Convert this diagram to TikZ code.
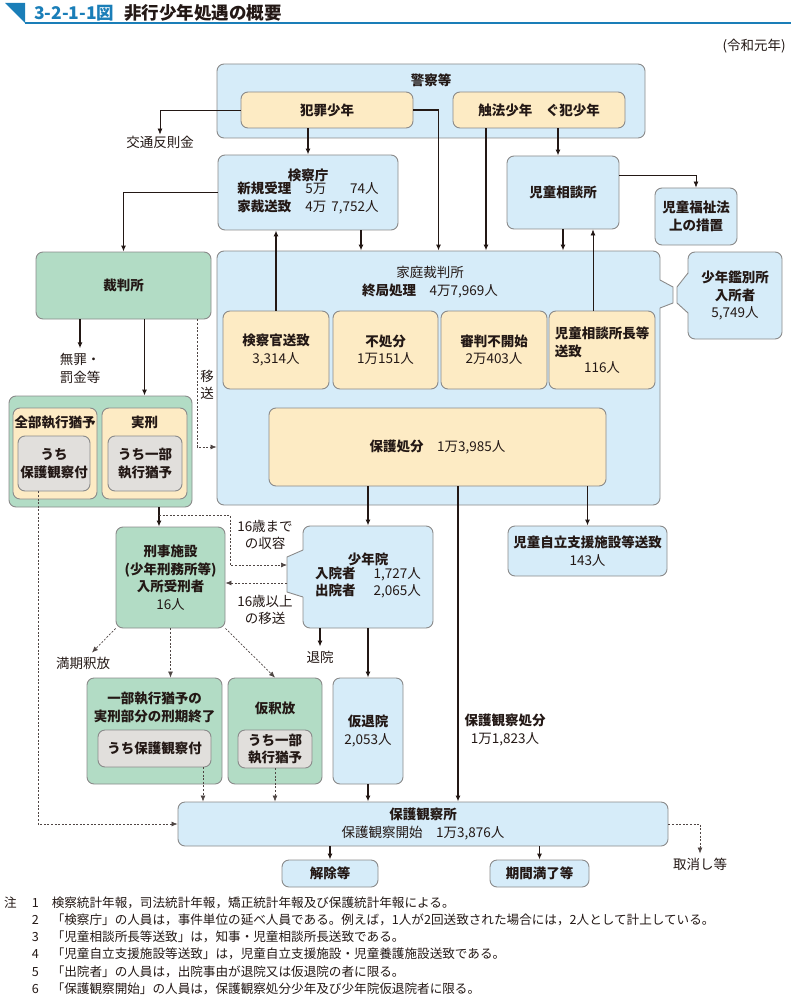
\documentclass[tikz,border=0pt]{standalone}
\usepackage{fontspec}
\setmainfont{Noto Sans CJK JP}
\usepackage{xcolor}
\usetikzlibrary{arrows.meta}
\definecolor{ink}{HTML}{231815}
\definecolor{rim}{HTML}{8A8A8A}
\definecolor{boxblue}{HTML}{D6ECF9}
\definecolor{boxyellow}{HTML}{FDEBC4}
\definecolor{boxgreen}{HTML}{B2DCC5}
\definecolor{boxgray}{HTML}{E1DFDC}
\definecolor{titleblue}{HTML}{1A7EB8}

\begin{document}
\begin{tikzpicture}[x=1pt,y=-1pt,font=\fontsize{13.5}{17.5}\selectfont]
    \tikzstyle{blk}=[rounded corners=7pt,draw=rim,line width=0.9pt,fill=boxblue,text=ink,align=center,inner sep=0pt]
    \tikzstyle{yel}=[fill=boxyellow]
    \tikzstyle{grn}=[fill=boxgreen]
    \tikzstyle{gry}=[fill=boxgray]
    \tikzstyle{lbl}=[text=ink,align=center,inner sep=1pt]
    \tikzstyle{fwd}=[draw=ink,line width=1.2pt,-{Latex[length=6pt,width=5pt]}]
    \tikzstyle{side}=[draw=ink,line width=0.7pt,-{Latex[length=6pt,width=5pt]}]
    \tikzstyle{dsh}=[draw=ink!80,line width=0.7pt,dash pattern=on 2pt off 1.6pt,-{Latex[length=6pt,width=5pt]}]

    \useasboundingbox (0,0) rectangle (791,1000);

    % title
    \fill[titleblue] (5,3) -- (25,3) -- (25,23) -- cycle;
    \draw[titleblue,line width=1.5pt] (25,23) -- (791,23);
    \node[anchor=west,inner sep=0pt,text=ink,font=\fontsize{17.5}{20}\selectfont\bfseries] (title) at (34,13)
        {{\color{titleblue}3-2-1-1図}\hspace{10pt}非行少年処遇の概要};
    \node[lbl,anchor=east] (year) at (787,46) {(令和元年)};

    % police
    \node[blk,minimum width=428pt,minimum height=74pt] (keisatsu) at (431,101) {};
    \node[lbl] (keisatsulbl) at (431,80) {\textbf{警察等}};
    \node[blk,yel,minimum width=172pt,minimum height=36pt] (hanzai) at (327,110) {\textbf{犯罪少年}};
    \node[blk,yel,minimum width=172pt,minimum height=36pt] (shokuho) at (539,110) {\textbf{触法少年　ぐ犯少年}};
    \node[lbl] (kotsu) at (160,142) {交通反則金};

    \node[blk,minimum width=180pt,minimum height=75pt] (kensatsu) at (308,192.5)
        {\textbf{検察庁}\\[-1pt]\begin{tabular}{@{}l@{\hspace{14pt}}l@{\hspace{5pt}}r@{}}\textbf{新規受理}&5万&74人\\\textbf{家裁送致}&4万&7,752人\end{tabular}};
    \node[blk,minimum width=112pt,minimum height=73pt] (jiso) at (563,192.5) {\textbf{児童相談所}};
    \node[blk,minimum width=82pt,minimum height=57pt] (fukushi) at (696,216.5) {\textbf{児童福祉法}\\\textbf{上の措置}};

    % family court
    \node[blk,minimum width=443pt,minimum height=254pt] (katei) at (438.5,378) {};
    \fill[boxblue] (659,280) -- (673,287) -- (673,303) -- (659,308) -- cycle;
    \draw[rim,line width=0.9pt] (660,280) -- (673,287) -- (673,303) -- (660,308);
    \node[lbl] (kateilbl) at (430,282) {家庭裁判所\\\textbf{終局処理}　4万7,969人};
    \node[blk,yel,minimum width=106pt,minimum height=78pt] (kansetsu) at (276,350) {\textbf{検察官送致}\\3,314人};
    \node[blk,yel,minimum width=105pt,minimum height=78pt] (fusho) at (385.5,350) {\textbf{不処分}\\1万151人};
    \node[blk,yel,minimum width=106pt,minimum height=78pt] (fukaishi) at (494,350) {\textbf{審判不開始}\\2万403人};
    \node[blk,yel,minimum width=106pt,minimum height=78pt] (jisosochi) at (602,350)
        {\begin{tabular}{@{}l@{}}\textbf{児童相談所長等}\\\textbf{送致}\end{tabular}\\[-1pt]116人};
    \node[blk,yel,minimum width=337pt,minimum height=78pt] (hogo) at (437.5,447) {\textbf{保護処分}　1万3,985人};

    \node[blk,minimum width=94pt,minimum height=87pt] (kanbetsu) at (735,295.5) {\textbf{少年鑑別所}\\\textbf{入所者}\\5,749人};
    \fill[boxblue] (689,273) -- (677,287) -- (677,303) -- (689,313) -- cycle;
    \draw[rim,line width=0.9pt] (688,273) -- (677,287) -- (677,303) -- (688,313);

    \node[blk,minimum width=159pt,minimum height=50pt] (jiritsu) at (587.5,551) {\textbf{児童自立支援施設等送致}\\143人};

    % criminal court
    \node[blk,grn,minimum width=175pt,minimum height=67pt] (saibansho) at (123.5,285.5) {\textbf{裁判所}};
    \node[lbl,inner sep=5pt] (muzai) at (80,368.5) {無罪・\\罰金等};
    \node[lbl] (iso) at (207,385) {移\\送};
    \node[blk,grn,minimum width=183pt,minimum height=111pt] (kei) at (100.5,451.5) {};
    \node[blk,yel,minimum width=84pt,minimum height=91pt] (zenbu) at (55,453.5) {};
    \node[lbl,inner sep=0pt] (zenbulbl) at (55,422) {\textbf{全部執行猶予}};
    \node[blk,gry,minimum width=72pt,minimum height=55pt] (zenbuin) at (54,463.5) {\textbf{うち}\\\textbf{保護観察付}};
    \node[blk,yel,minimum width=85pt,minimum height=91pt] (jikkei) at (144.5,453.5) {};
    \node[lbl] (jikkeilbl) at (144.5,422) {\textbf{実刑}};
    \node[blk,gry,minimum width=74pt,minimum height=55pt] (jikkeiin) at (145,463.5) {\textbf{うち一部}\\\textbf{執行猶予}};

    \node[blk,grn,minimum width=109pt,minimum height=101pt] (keiji) at (170.5,577.5)
        {\textbf{刑事施設}\\\textbf{(少年刑務所等)}\\\textbf{入所受刑者}\\16人};
    \node[blk,minimum width=130pt,minimum height=102pt] (shonenin) at (368,577)
        {\textbf{少年院}\\[-1pt]\begin{tabular}{@{}l@{\hspace{18pt}}r@{}}\textbf{入院者}&1,727人\\\textbf{出院者}&2,065人\end{tabular}};
    \fill[boxblue] (304,550) -- (287,557) -- (287,592) -- (304,597) -- cycle;
    \draw[rim,line width=0.9pt] (303,550) -- (287,557) -- (287,592) -- (303,597);
    \node[lbl] (upto) at (265,535) {16歳まで\\の収容};
    \node[lbl] (over) at (265,610) {16歳以上\\の移送};
    \node[lbl,inner sep=4pt] (taiin) at (320,657) {退院};
    \node[lbl,inner sep=4pt] (manki) at (83,663) {満期釈放};

    \node[blk,grn,minimum width=135pt,minimum height=106pt] (ichibu) at (154.5,731) {};
    \node[lbl] (ichibulbl) at (154.5,707.5) {\textbf{一部執行猶予の}\\\textbf{実刑部分の刑期終了}};
    \node[blk,gry,minimum width=113pt,minimum height=37pt] (ichibuin) at (154.5,748.5) {\textbf{うち保護観察付}};
    \node[blk,grn,minimum width=94pt,minimum height=106pt] (karishaku) at (275,731) {};
    \node[lbl] (karishakulbl) at (275,708) {\textbf{仮釈放}};
    \node[blk,gry,minimum width=74pt,minimum height=38pt] (karishakuin) at (275,749) {\textbf{うち一部}\\\textbf{執行猶予}};
    \node[blk,minimum width=70pt,minimum height=106pt] (karitai) at (368,731) {\textbf{仮退院}\\2,053人};
    \node[lbl] (shobun) at (505,730) {\textbf{保護観察処分}\\1万1,823人};

    % probation
    \node[blk,minimum width=490pt,minimum height=44pt] (hogokansatsu) at (423,824) {\textbf{保護観察所}\\保護観察開始　1万3,876人};
    \node[blk,minimum width=96pt,minimum height=27pt] (kaijo) at (330,873.5) {\textbf{解除等}};
    \node[blk,minimum width=99pt,minimum height=27pt] (kikan) at (539.5,873.5) {\textbf{期間満了等}};
    \node[lbl,inner sep=4pt] (torikeshi) at (700,864) {取消し等};

    % connectors
   \draw [side] (hanzai.west) -| (kotsu.north);
   \draw [fwd] (hanzai.east) -| (katei.north);
   \draw [fwd] (kensatsu.north |- hanzai.south) -- (kensatsu.north);
   \coordinate (s1) at ([xshift=-53pt]shokuho.south);
   \draw [fwd] (s1) -- (s1 |- katei.north);
   \coordinate (s2) at ([xshift=19pt]shokuho.south);
   \draw [fwd] (s2) -- (s2 |- jiso.north);
   \coordinate (k1) at ([xshift=53pt]kensatsu.south);
   \draw [fwd] (k1) -- (k1 |- katei.north);
   \draw [fwd] (kansetsu.north) -- (kansetsu.north |- kensatsu.south);
   \draw [fwd] (jiso.south) -- (jiso.south |- katei.north);
   \coordinate (j1) at ([xshift=-9pt]jisosochi.north);
   \draw [side] (j1) -- (j1 |- jiso.south);
   \coordinate (j2) at ([yshift=17pt]jiso.east);
   \draw [side] (j2) -| (fukushi.north);
   \draw [fwd] (kensatsu.west) -| (saibansho.north);

   \draw [fwd] (saibansho.south -| muzai.north) -- (muzai.north);
   \draw [fwd] (saibansho.south -| jikkeilbl.north) -- (jikkeilbl.north |- kei.north);
   \coordinate (c1) at ([xshift=73.5pt]saibansho.south);
   \draw [dsh] (c1) |- (katei.west |- hogo.west);

   \coordinate (c2) at ([xshift=-11.5pt]keiji.north);
   \draw [fwd] (c2 |- kei.south) -- (c2);
   \coordinate (b1) at (159,515);
   \coordinate (b2) at (230,515);
   \coordinate (tip1) at (287,565);
   \coordinate (tip2) at (287,583);
   \draw [dsh] (b1) -- (b2) |- (tip1);
   \draw [dsh] (tip2) -- (tip2 -| keiji.east);

   \draw [fwd] (hogo.south -| shonenin.north) -- (shonenin.north);
   \coordinate (h1) at ([xshift=20.5pt]hogo.south);
   \draw [fwd] (h1) -- (h1 |- hogokansatsu.north);
   \draw [fwd] (hogo.south -| jiritsu.north) -- (jiritsu.north);

   \draw [fwd] (shonenin.south -| taiin.north) -- (taiin.north);
   \draw [fwd] (shonenin.south -| karitai.north) -- (karitai.north);

   \draw [dsh] (keiji.south west) -- ([xshift=9pt]manki.north);
   \draw [dsh] (keiji.south) -- (keiji.south |- ichibu.north);
   \draw [dsh] (keiji.south east) -- (karishaku.north);

   \coordinate (i1) at ([xshift=48.5pt]ichibuin.south);
   \draw [dsh] (i1) -- (i1 |- hogokansatsu.north);
   \draw [dsh] (karishakuin.south) -- (karishakuin.south |- hogokansatsu.north);
   \draw [fwd] (karitai.south) -- (karitai.south |- hogokansatsu.north);
   \coordinate (z1) at ([xshift=-16pt]zenbuin.south);
   \draw [dsh] (z1) |- (hogokansatsu.west);

   \draw [dsh] (hogokansatsu.east) -| (torikeshi.north);
   \draw [fwd] (hogokansatsu.south -| kaijo.north) -- (kaijo.north);
   \draw [fwd] (hogokansatsu.south -| kikan.north) -- (kikan.north);

    % notes
    \node[anchor=north west,inner sep=0pt,text=ink,font=\fontsize{12.6}{17.2}\selectfont] (notes) at (4,895)
        {\begin{tabular}{@{}l@{\hspace{15pt}}r@{\hspace{13pt}}l@{}}
        注&1&検察統計年報，司法統計年報，矯正統計年報及び保護統計年報による。\\
        &2&「検察庁」の人員は，事件単位の延べ人員である。例えば，1人が2回送致された場合には，2人として計上している。\\
        &3&「児童相談所長等送致」は，知事・児童相談所長送致である。\\
        &4&「児童自立支援施設等送致」は，児童自立支援施設・児童養護施設送致である。\\
        &5&「出院者」の人員は，出院事由が退院又は仮退院の者に限る。\\
        &6&「保護観察開始」の人員は，保護観察処分少年及び少年院仮退院者に限る。
        \end{tabular}};
\end{tikzpicture}
\end{document}
